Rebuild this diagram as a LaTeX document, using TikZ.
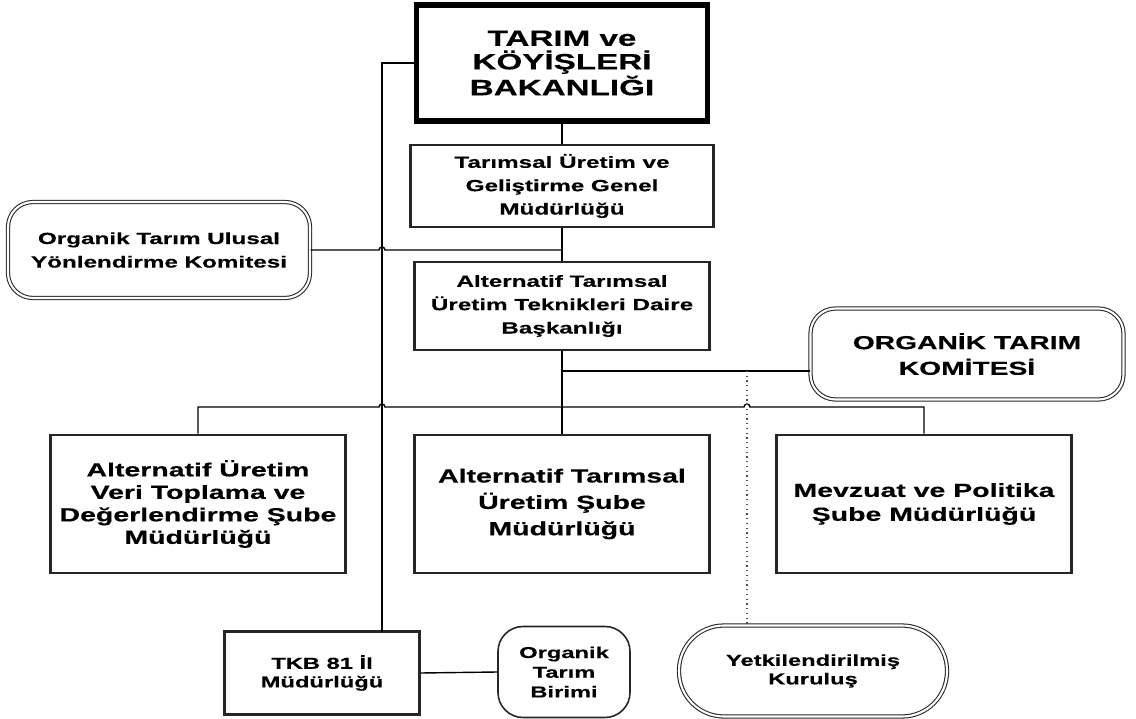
\documentclass[tikz,border=0pt]{standalone}
\usepackage{fontspec}
\setmainfont{Liberation Sans}[FakeStretch=1.5, BoldFeatures={FakeBold=0.4}]
\usetikzlibrary{calc}
\newcommand{\px}{0.02cm}

\begin{document}
\begin{tikzpicture}[
        x=\px, y=-\px,
        double distance = 1.2pt,
        thick,
        every node/.style={align=center, inner sep=0pt},
        bakbox/.style={draw=black, line width=3.4pt,
            font=\bfseries\fontsize{12.6}{13.4}\selectfont},
        unitbox/.style={draw=black!85, line width=1.5pt,
            font=\bfseries\fontsize{9.2}{13.3}\selectfont},
        subebox/.style={draw=black!85, line width=1.5pt,
            minimum width=295*\px, minimum height=138*\px,
            font=\bfseries\fontsize{10.8}{12.8}\selectfont},
        kombox/.style={draw=black!85, double, line width=0.6pt,
            rounded corners=25*\px},
        smallfont/.style={font=\bfseries\fontsize{9}{10.6}\selectfont}]

    \useasboundingbox (0,0) rectangle (1136,719);

    % NODES
    % bakanlik
    \node[bakbox, minimum width=291*\px, minimum height=116*\px] (bakanlik)
        at (562,63) {TARIM ve\\KÖYİŞLERİ\\BAKANLIĞI};
    % genel mudurluk
    \node[unitbox, minimum width=303*\px, minimum height=82*\px] (genel)
        at (562,186) {Tarımsal Üretim ve\\Geliştirme Genel\\Müdürlüğü};
    % daire baskanligi
    \node[unitbox, minimum width=295*\px, minimum height=88*\px] (daire)
        at (562,306) {Alternatif Tarımsal\\Üretim Teknikleri Daire\\Başkanlığı};
    % ulusal komite
    \node[kombox, font=\bfseries\fontsize{9.2}{13.4}\selectfont,
        minimum width=302*\px, minimum height=96*\px] (ulusal)
        at (159,250) {Organik Tarım Ulusal\\Yönlendirme Komitesi};
    % organik tarim komitesi
    \node[kombox, font=\bfseries\fontsize{10.7}{14.6}\selectfont,
        minimum width=313*\px, minimum height=91*\px] (komite)
        at (967,354) {ORGANİK TARIM\\KOMİTESİ};
    % sube mudurlukleri
    \node[subebox] (sube1) at (198,504)
        {Alternatif Üretim\\Veri Toplama ve\\Değerlendirme Şube\\Müdürlüğü};
    \node[subebox, font=\bfseries\fontsize{10.8}{15}\selectfont] (sube2) at (562,504)
        {Alternatif Tarımsal\\Üretim Şube\\Müdürlüğü};
    \node[subebox, font=\bfseries\fontsize{10.8}{13.6}\selectfont] (sube3) at (924,504)
        {Mevzuat ve Politika\\Şube Müdürlüğü};
    % il mudurlugu
    \node[unitbox, smallfont, minimum width=195*\px, minimum height=83*\px] (ilmud)
        at (322,673) {TKB 81 İl\\Müdürlüğü};
    % organik tarim birimi
    \node[draw=black!85, line width=0.9pt, rounded corners=25*\px,
        font=\bfseries\fontsize{9}{11.2}\selectfont,
        minimum width=132*\px, minimum height=91*\px] (birim)
        at (564,672) {Organik\\Tarım\\Birimi};
    % yetkilendirilmis kurulus
    \node[kombox, rounded corners=45*\px, smallfont,
        minimum width=268*\px, minimum height=91*\px] (kurulus)
        at (813,671) {Yetkilendirilmiş\\Kuruluş};

    % junction points
    \coordinate (trunk) at (382,632);
    \coordinate (kjoin) at (747,371);
    \coordinate (bus) at (562,407);

    % LINES
    \draw (bakanlik.south) -- (genel.north);
    \draw (genel.south) -- (daire.north);
    \draw (daire.south) -- (sube2.north);
    \draw (bakanlik.west) -| (trunk);
    \draw (ulusal.east) -- ($(trunk |- ulusal.east)+(-3,0)$)
        arc[start angle=180, end angle=0, radius=3*\px]
        -- (ulusal.east -| genel.south);
    \draw (komite.west |- kjoin) -- (daire.south |- kjoin);
    \draw (sube1.north) -- (sube1.north |- bus)
        -- ($(trunk |- bus)+(-3,0)$)
        arc[start angle=180, end angle=0, radius=3*\px]
        -- ($(kjoin |- bus)+(-3,0)$)
        arc[start angle=180, end angle=0, radius=3*\px]
        -- (sube3.north |- bus) -- (sube3.north);
    \draw[dotted, black!70, line width=0.7pt] (kjoin) -- (kjoin |- kurulus.north);
    \draw (ilmud.east) -- (birim.west);
\end{tikzpicture}
\end{document}
